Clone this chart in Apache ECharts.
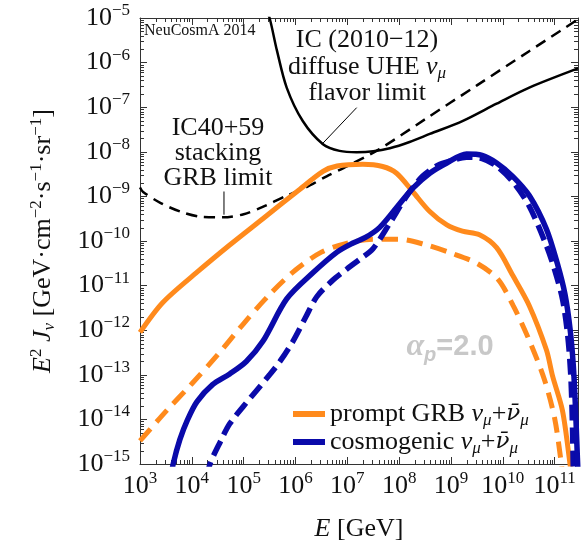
<!DOCTYPE html>
<html><head><meta charset="utf-8">
<script src="https://cdn.jsdelivr.net/npm/echarts@6/dist/echarts.min.js"></script>
<style>html,body{margin:0;padding:0;background:#fff}#c{width:583px;height:548px}</style>
</head><body><div id="c"></div>
<script>
// All values are log10: x = log10(E / GeV), y = log10(E^2 J / (GeV cm^-2 s^-1 sr^-1))
const xTickExps = [3, 4, 5, 6, 7, 8, 9, 10, 11];
const yTickExps = [-15, -14, -13, -12, -11, -10, -9, -8, -7, -6, -5];

// IC (2010-12) diffuse UHE nu_mu flavor limit (black solid)
const icDiffuseLogE = [5.42, 5.50, 5.64, 5.83, 6.14, 6.53, 6.85, 7.18, 7.50, 7.82, 8.20, 8.59, 9.22, 9.88, 10.51, 11.45];
const icDiffuseLogF = [-4.80, -5.00, -5.72, -6.56, -7.31, -7.83, -7.98, -8.01, -7.99, -7.92, -7.78, -7.60, -7.31, -6.92, -6.56, -6.13];

// IC40+59 stacking GRB limit (black dashed)
const stackLogE = [3.00, 3.06, 3.40, 3.80, 4.20, 4.60, 5.00, 5.40, 5.80, 6.20, 6.60, 7.00, 7.62, 8.50, 9.50, 10.50, 11.45];
const stackLogF = [-8.80, -8.90, -9.15, -9.35, -9.46, -9.47, -9.40, -9.22, -9.00, -8.80, -8.55, -8.32, -7.94, -7.27, -6.51, -5.75, -5.03];

// prompt GRB (orange solid)
const promptLogE = [3.00, 3.44, 4.10, 4.73, 5.37, 6.03, 6.53, 6.80, 7.30, 7.68, 7.95, 8.26, 8.59, 8.92, 9.22, 9.55, 9.88, 10.19, 10.51, 10.84, 10.96, 11.15, 11.29, 11.32];
const promptLogF = [-12.05, -11.38, -10.70, -10.09, -9.50, -8.89, -8.44, -8.32, -8.28, -8.33, -8.48, -8.89, -9.34, -9.64, -9.78, -9.86, -10.15, -10.77, -11.45, -12.44, -13.03, -13.80, -14.95, -15.30];

// prompt GRB, second model (orange dashed)
const promptDashLogE = [3.00, 3.50, 4.00, 4.50, 5.00, 5.50, 6.00, 6.50, 7.00, 7.50, 8.00, 8.50, 9.00, 9.50, 9.90, 10.20, 10.50, 10.80, 11.00, 11.13, 11.16];
const promptDashLogF = [-14.48, -13.82, -13.20, -12.55, -11.85, -11.20, -10.65, -10.25, -10.05, -9.96, -9.96, -10.08, -10.27, -10.50, -10.85, -11.45, -12.20, -13.10, -13.98, -15.00, -15.30];

// cosmogenic (blue solid)
const cosmoLogE = [3.60, 3.64, 3.77, 3.92, 4.10, 4.40, 4.73, 5.05, 5.37, 5.83, 6.33, 6.80, 7.10, 7.35, 7.62, 7.95, 8.26, 8.59, 8.92, 9.30, 9.60, 9.88, 10.19, 10.51, 10.84, 11.05, 11.20, 11.30, 11.36, 11.40, 11.43, 11.45];
const cosmoLogF = [-15.30, -15.00, -14.45, -14.00, -13.60, -13.22, -12.98, -12.70, -12.25, -11.30, -10.72, -10.25, -10.05, -9.92, -9.70, -9.25, -8.82, -8.48, -8.25, -8.05, -8.08, -8.25, -8.55, -8.98, -9.73, -10.50, -11.20, -12.00, -12.80, -13.70, -14.60, -15.20];

// cosmogenic, second model (blue dashed)
const cosmoDashLogE = [4.30, 4.35, 4.55, 4.73, 5.00, 5.25, 5.50, 5.70, 5.95, 6.20, 6.41, 6.70, 6.99, 7.25, 7.49, 7.82, 8.14, 8.45, 8.75, 9.00, 9.30, 9.60, 9.88, 10.19, 10.50, 10.84, 11.00, 11.15, 11.25, 11.31, 11.34, 11.36];
const cosmoDashLogF = [-15.30, -15.00, -14.50, -14.10, -13.70, -13.35, -13.00, -12.70, -12.25, -11.70, -11.25, -10.90, -10.63, -10.40, -10.18, -9.60, -9.00, -8.55, -8.30, -8.20, -8.12, -8.15, -8.32, -8.67, -9.20, -10.10, -10.65, -11.30, -12.10, -13.00, -14.00, -15.20];

// annotation leader lines
const leaderICLogE = [6.51, 7.18];
const leaderICLogF = [-7.83, -7.01];
const leaderGRBLogE = [4.62, 4.62];
const leaderGRBLogF = [-8.89, -9.41];

const X_MIN = 3, X_MAX = 11.45, Y_MIN = -15, Y_MAX = -5;

const SERIF = "'Liberation Serif', 'Times New Roman', serif";
const BARFONT = "'DejaVu Serif', serif";
const SANS = "'Liberation Sans', Arial, sans-serif";
const ORANGE = '#FF8A1C', BLUE = '#0A0AAA', INK = '#111', GREY = '#c8c8c8';

function pairs(le, lf) { return le.map((v, i) => [v, lf[i]]); }
function isInt(v) { return Math.abs(v - Math.round(v)) < 1e-6; }

// minor tick positions (axis decoration)
const minorX = [], minorY = [];
for (let n = 3; n <= 11; n++) for (let k = 2; k <= 9; k++) { const v = n + Math.log10(k); if (v < X_MAX) minorX.push([v, Y_MIN]); }
for (let n = -15; n <= -6; n++) for (let k = 2; k <= 9; k++) { minorY.push([X_MIN, n + Math.log10(k)]); }

const tickRich = {
  b: { fontFamily: SERIF, fontSize: 26, lineHeight: 32, color: INK },
  s: { fontFamily: SERIF, fontSize: 17, verticalAlign: 'top', color: INK }
};
function mkRich(key) {
  const o = {
    n: { fontFamily: SERIF, fontSize: 26, lineHeight: 30 },
    i: { fontFamily: SERIF, fontSize: 26, lineHeight: 30, fontStyle: 'italic' },
    bar: { fontFamily: BARFONT, fontSize: 23, lineHeight: 30, fontStyle: 'italic' },
    sub: { fontFamily: SERIF, fontSize: 17, fontStyle: 'italic', verticalAlign: 'bottom' },
    sup: { fontFamily: SERIF, fontSize: 17, verticalAlign: 'top' }
  };
  Object.keys(o).forEach(k => { o[k][key] = INK; });
  return o;
}
const textRich = mkRich('color');
const gfxRich = mkRich('fill');

const chart = echarts.init(document.getElementById('c'), null, { renderer: 'canvas' });

const frameAxis = {
  type: 'value', interval: 1,
  axisLine: { show: true, lineStyle: { color: '#333', width: 1 } },
  axisTick: { show: true, inside: true, length: 7, lineStyle: { color: '#333', width: 1 } },
  splitLine: { show: false }
};

function lineSeries(name, le, lf, color, width, type, z) {
  return {
    name: name, type: 'line', data: pairs(le, lf), showSymbol: false, symbol: 'none',
    smooth: 0.3, clip: true, z: z || 2,
    lineStyle: { color: color, width: width, type: type || 'solid', cap: 'butt' },
    itemStyle: { color: color }, silent: true, animation: false
  };
}

function tickRender(isX) {
  return function (params, api) {
    const cs = params.coordSys;
    const p = api.coord([api.value(0), api.value(1)]);
    const L = 4, st = { stroke: '#333', lineWidth: 1 };
    if (isX) {
      const x = Math.round(p[0]) + 0.5, yb = cs.y + cs.height, yt = cs.y;
      return { type: 'group', children: [
        { type: 'line', shape: { x1: x, y1: yb, x2: x, y2: yb - L }, style: st },
        { type: 'line', shape: { x1: x, y1: yt, x2: x, y2: yt + L }, style: st }
      ] };
    } else {
      const y = Math.round(p[1]) + 0.5, xl = cs.x, xr = cs.x + cs.width;
      return { type: 'group', children: [
        { type: 'line', shape: { x1: xl, y1: y, x2: xl + L, y2: y }, style: st },
        { type: 'line', shape: { x1: xr, y1: y, x2: xr - L, y2: y }, style: st }
      ] };
    }
  };
}

const legendLabel = {
  'prompt': '{n|prompt GRB }{i|ν}{sub|μ}{n|+}{bar|ν̄}{sub|μ}',
  'cosmogenic': '{n|cosmogenic }{i|ν}{sub|μ}{n|+}{bar|ν̄}{sub|μ}'
};

const option = {
  animation: false,
  backgroundColor: '#fff',
  grid: { left: 140, top: 18, right: 5, bottom: 84, containLabel: false },
  xAxis: [
    Object.assign({}, frameAxis, {
      min: X_MIN, max: X_MAX, position: 'bottom',
      axisLabel: {
        show: true, margin: 6, showMaxLabel: false,
        formatter: v => (isInt(v) && xTickExps.includes(Math.round(v))) ? '{b|10}{s|' + Math.round(v) + '}' : '',
        rich: tickRich
      },
      name: '{i|E}{n| [GeV]}', nameLocation: 'middle', nameGap: 50,
      nameTextStyle: { rich: textRich }
    }),
    Object.assign({}, frameAxis, { min: X_MIN, max: X_MAX, position: 'top', axisLabel: { show: false } })
  ],
  yAxis: [
    Object.assign({}, frameAxis, {
      min: Y_MIN, max: Y_MAX, position: 'left',
      axisLabel: {
        show: true, margin: 10,
        formatter: v => (isInt(v) && yTickExps.includes(Math.round(v))) ? '{b|10}{s|−' + Math.abs(Math.round(v)) + '}' : '',
        rich: tickRich
      },
      name: '{i|E}{sup|2}{n| }{i|J}{sub|ν}{n| [GeV·cm}{sup|−2}{n|·s}{sup|−1}{n|·sr}{sup|−1}{n|]}',
      nameLocation: 'middle', nameRotate: 90, nameGap: 82,
      nameTextStyle: { rich: textRich }
    }),
    Object.assign({}, frameAxis, { min: Y_MIN, max: Y_MAX, position: 'right', axisLabel: { show: false } })
  ],
  legend: {
    show: true, orient: 'vertical', left: 288, top: 396, itemGap: 0,
    itemWidth: 32, itemHeight: 6, icon: 'rect', selectedMode: false,
    data: ['prompt', 'cosmogenic'],
    formatter: name => legendLabel[name],
    textStyle: { rich: textRich, fontFamily: SERIF, fontSize: 26 }
  },
  graphic: [
    { type: 'text', x: 144, y: 31, silent: true, style: { text: 'NeuCosmA 2014', fontFamily: SERIF, fontSize: 16, fill: INK, align: 'left', verticalAlign: 'middle' } },
    { type: 'text', x: 367, y: 40, silent: true, style: { text: 'IC (2010−12)', fontFamily: SERIF, fontSize: 26, fill: INK, align: 'center', verticalAlign: 'middle' } },
    { type: 'text', x: 367, y: 67, silent: true, style: { text: '{n|diffuse UHE }{i|ν}{sub|μ}', rich: gfxRich, align: 'center', verticalAlign: 'middle' } },
    { type: 'text', x: 367, y: 93, silent: true, style: { text: 'flavor limit', fontFamily: SERIF, fontSize: 26, fill: INK, align: 'center', verticalAlign: 'middle' } },
    { type: 'text', x: 218, y: 128, silent: true, style: { text: 'IC40+59', fontFamily: SERIF, fontSize: 26, fill: INK, align: 'center', verticalAlign: 'middle' } },
    { type: 'text', x: 218, y: 153, silent: true, style: { text: 'stacking', fontFamily: SERIF, fontSize: 26, fill: INK, align: 'center', verticalAlign: 'middle' } },
    { type: 'text', x: 218, y: 178, silent: true, style: { text: 'GRB limit', fontFamily: SERIF, fontSize: 26, fill: INK, align: 'center', verticalAlign: 'middle' } },
    { type: 'text', x: 450, y: 347, silent: true, style: {
      text: '{a|α}{p|p}{t|=2.0}', align: 'center', verticalAlign: 'middle',
      rich: {
        a: { fontFamily: SERIF, fontStyle: 'italic', fontWeight: 'bold', fontSize: 32, lineHeight: 36, fill: GREY },
        p: { fontFamily: SANS, fontStyle: 'italic', fontWeight: 'bold', fontSize: 20, verticalAlign: 'bottom', fill: GREY },
        t: { fontFamily: SANS, fontWeight: 'bold', fontSize: 29, lineHeight: 36, fill: GREY }
      } } }
  ],
  series: [
    { type: 'custom', name: 'minorX', data: minorX, renderItem: tickRender(true), silent: true, z: 1, clip: false, animation: false },
    { type: 'custom', name: 'minorY', data: minorY, renderItem: tickRender(false), silent: true, z: 1, clip: false, animation: false },
    lineSeries('IC diffuse', icDiffuseLogE, icDiffuseLogF, '#000', 2.5, 'solid', 2),
    lineSeries('IC stacking', stackLogE, stackLogF, '#000', 2.5, [11, 7], 2),
    Object.assign(lineSeries('leaderIC', leaderICLogE, leaderICLogF, '#000', 1, 'solid', 2), { smooth: false }),
    Object.assign(lineSeries('leaderGRB', leaderGRBLogE, leaderGRBLogF, '#000', 1, 'solid', 2), { smooth: false }),
    lineSeries('prompt dashed', promptDashLogE, promptDashLogF, ORANGE, 5, [16, 9], 3),
    lineSeries('prompt', promptLogE, promptLogF, ORANGE, 5, 'solid', 3),
    lineSeries('cosmogenic dashed', cosmoDashLogE, cosmoDashLogF, BLUE, 5.5, [16, 7], 4),
    lineSeries('cosmogenic', cosmoLogE, cosmoLogF, BLUE, 5.5, 'solid', 4)
  ]
};
chart.setOption(option);
</script>
</body></html>
